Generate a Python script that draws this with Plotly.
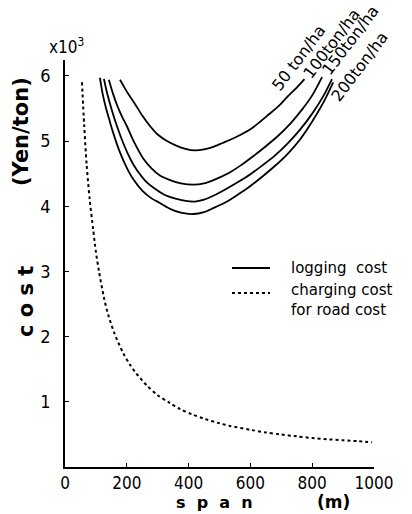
import plotly.graph_objects as go

# Logging cost curves for four stand volumes (span in m, cost in 10^3 Yen/ton)
span_50 = [178, 190, 205, 225, 250, 275, 300, 330, 360, 390, 420, 450, 480, 510, 540, 570,
           600, 630, 660, 690, 720, 750, 775]
cost_50 = [5.94, 5.84, 5.72, 5.58, 5.39, 5.23, 5.10, 5.00, 4.93, 4.88, 4.855, 4.87, 4.91, 4.97,
           5.03, 5.10, 5.18, 5.29, 5.41, 5.53, 5.68, 5.82, 5.95]

span_100 = [142, 155, 170, 185, 200, 225, 252, 280, 307, 340, 375, 415, 450, 490, 530, 570,
            610, 650, 690, 730, 770, 800, 832]
cost_100 = [5.94, 5.73, 5.53, 5.37, 5.23, 4.97, 4.74, 4.58, 4.47, 4.40, 4.35, 4.33, 4.35, 4.42,
            4.51, 4.63, 4.77, 4.92, 5.08, 5.27, 5.50, 5.70, 5.98]

span_150 = [126, 137, 150, 168, 190, 212, 233, 260, 290, 320, 355, 390, 420, 450, 480, 520,
            560, 600, 640, 680, 720, 760, 800, 835, 864]
cost_150 = [5.95, 5.72, 5.50, 5.23, 4.95, 4.72, 4.55, 4.39, 4.27, 4.18, 4.12, 4.08, 4.07, 4.10,
            4.16, 4.26, 4.37, 4.49, 4.63, 4.78, 4.96, 5.17, 5.42, 5.68, 5.95]

span_200 = [113, 122, 133, 145, 155, 175, 197, 220, 250, 280, 307, 340, 375, 415, 450, 480,
            520, 560, 600, 640, 680, 720, 760, 800, 835, 868]
cost_200 = [5.97, 5.72, 5.50, 5.30, 5.14, 4.86, 4.62, 4.42, 4.24, 4.12, 4.05, 3.96, 3.90, 3.88,
            3.91, 3.97, 4.06, 4.18, 4.31, 4.46, 4.62, 4.80, 5.02, 5.30, 5.58, 5.90]

# Charging cost for road cost
span_road = [55, 62, 70, 80, 91, 100, 110, 126, 140, 160, 188, 210, 230, 265, 300, 340, 372,
             410, 450, 500, 534, 600, 650, 696, 750, 800, 850, 900, 950, 994]
cost_road = [5.90, 5.25, 4.64, 4.10, 3.65, 3.30, 3.00, 2.60, 2.33, 2.05, 1.75, 1.57, 1.44, 1.25,
             1.10, 0.98, 0.89, 0.81, 0.74, 0.67, 0.63, 0.57, 0.53, 0.50, 0.47, 0.445, 0.425,
             0.41, 0.395, 0.38]

x_ticks = [0, 200, 400, 600, 800, 1000]
y_ticks = [1, 2, 3, 4, 5, 6]
volume_labels = ["50 ton/ha", "100ton/ha", "150ton/ha", "200ton/ha"]

W, H = 412, 514
L, R, T, B = 65, 38, 60, 47
PW, PH = W - L - R, H - T - B


def px(x):
    return (x - L) / PW


def py(y):
    return (H - B - y) / PH


fig = go.Figure()
line_style = dict(color="black", width=1.8, shape="spline", smoothing=0.8)
for s, c in [(span_50, cost_50), (span_100, cost_100), (span_150, cost_150), (span_200, cost_200)]:
    fig.add_trace(go.Scatter(x=s, y=c, mode="lines", line=line_style,
                             showlegend=False, hoverinfo="skip"))

fig.add_trace(go.Scatter(x=span_road, y=cost_road, mode="lines",
                         line=dict(color="black", width=2, dash="dot", shape="spline", smoothing=0.8),
                         showlegend=False, hoverinfo="skip"))

tick_font = dict(family="DejaVu Sans Condensed, DejaVu Sans", size=17, color="black")
fig.update_xaxes(range=[0, 1000], tickvals=x_ticks, ticktext=[str(v) for v in x_ticks],
                 showgrid=False, zeroline=False, showline=True, linecolor="black", linewidth=1.6,
                 ticks="inside", ticklen=4, tickcolor="black", tickwidth=1.2,
                 tickfont=tick_font)
fig.update_yaxes(range=[0, PH / 65.2], tickvals=y_ticks, ticktext=[str(v) for v in y_ticks],
                 showgrid=False, zeroline=False, showline=True, linecolor="black", linewidth=1.6,
                 ticks="inside", ticklen=4, tickcolor="black", tickwidth=1.2,
                 tickfont=dict(family="DejaVu Sans Condensed, DejaVu Sans", size=18, color="black"),
                 ticklabelstandoff=9)

ann = []
label_pos = [(298, 58), (332, 44), (350, 40), (360, 67)]
for txt, (x, y) in zip(volume_labels, label_pos):
    ann.append(dict(x=px(x), y=py(y), xref="paper", yref="paper", text=txt, textangle=-53,
                    showarrow=False, xanchor="center", yanchor="middle",
                    font=dict(family="DejaVu Sans", size=16, color="black")))

ann.append(dict(x=px(66), y=py(46), xref="paper", yref="paper", text="x10<sup>3</sup>",
                showarrow=False, xanchor="center", yanchor="middle",
                font=dict(family="DejaVu Sans Condensed, DejaVu Sans", size=17, color="black")))
ann.append(dict(x=px(21), y=py(132), xref="paper", yref="paper", text="<b>(Yen/ton)</b>",
                textangle=-90, showarrow=False, xanchor="center", yanchor="middle",
                font=dict(family="DejaVu Sans", size=21, color="black")))
ann.append(dict(x=px(26), y=py(302), xref="paper", yref="paper", text="<b>c o s t</b>",
                textangle=-90, showarrow=False, xanchor="center", yanchor="middle",
                font=dict(family="DejaVu Sans", size=21, color="black")))
ann.append(dict(x=px(214), y=py(502), xref="paper", yref="paper", text="<b>s  p  a  n</b>",
                showarrow=False, xanchor="center", yanchor="middle",
                font=dict(family="DejaVu Sans", size=16, color="black")))
ann.append(dict(x=px(333), y=py(502), xref="paper", yref="paper", text="<b>(m)</b>",
                showarrow=False, xanchor="center", yanchor="middle",
                font=dict(family="DejaVu Sans", size=17, color="black")))

legend_font = dict(family="DejaVu Sans", size=15, color="black")
ann.append(dict(x=px(289), y=py(268), xref="paper", yref="paper", text="logging  cost",
                showarrow=False, xanchor="left", yanchor="middle", font=legend_font))
ann.append(dict(x=px(289), y=py(300), xref="paper", yref="paper",
                text="charging cost<br>for road cost", align="left",
                showarrow=False, xanchor="left", yanchor="middle", font=legend_font))

shapes = [
    dict(type="line", xref="paper", yref="paper", x0=px(232), x1=px(270), y0=py(268), y1=py(268),
         line=dict(color="black", width=1.8)),
    dict(type="line", xref="paper", yref="paper", x0=px(232), x1=px(270), y0=py(293), y1=py(293),
         line=dict(color="black", width=2, dash="dot")),
]

fig.update_layout(width=W, height=H, margin=dict(l=L, r=R, t=T, b=B),
                  paper_bgcolor="white", plot_bgcolor="white",
                  annotations=ann, shapes=shapes, showlegend=False)

fig.write_html("out.html")
